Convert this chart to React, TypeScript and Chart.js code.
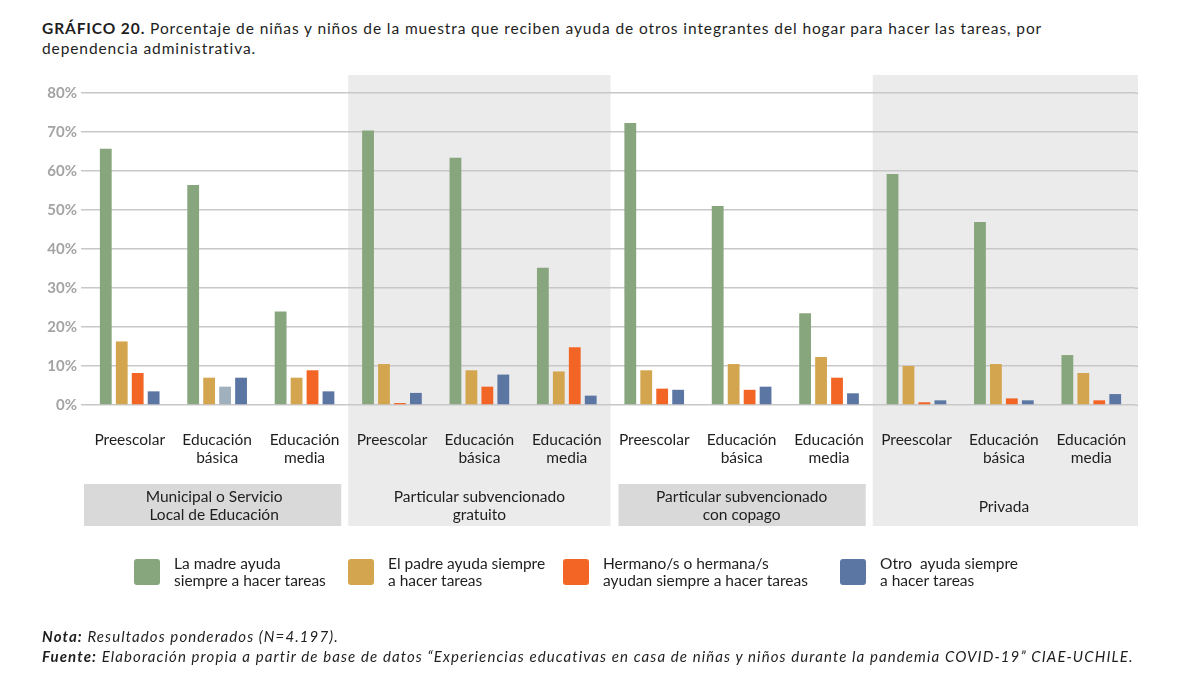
import React, { useEffect, useRef } from "react";
import { Chart, registerables } from "chart.js";

Chart.register(...registerables);

const categories: string[][] = [
  ["Preescolar"], ["Educación", "básica"], ["Educación", "media"],
  ["Preescolar"], ["Educación", "básica"], ["Educación", "media"],
  ["Preescolar"], ["Educación", "básica"], ["Educación", "media"],
  ["Preescolar"], ["Educación", "básica"], ["Educación", "media"],
];

const groupLabels: string[][] = [
  ["Municipal o Servicio", "Local de Educación"],
  ["Particular subvencionado", "gratuito"],
  ["Particular subvencionado", "con copago"],
  ["Privada"],
];

const seriesNames: string[][] = [
  ["La madre ayuda", "siempre a hacer tareas"],
  ["El padre ayuda siempre", "a hacer tareas"],
  ["Hermano/s o hermana/s", "ayudan siempre a hacer tareas"],
  ["Otro  ayuda siempre", "a hacer tareas"],
];

const madre = [65.7, 56.4, 24.0, 70.4, 63.4, 35.2, 72.3, 51.0, 23.5, 59.2, 46.9, 12.8];
const padre = [16.3, 7.0, 7.0, 10.5, 8.9, 8.6, 8.9, 10.5, 12.3, 10.0, 10.5, 8.2];
const hermanos = [8.2, 4.7, 8.9, 0.5, 4.7, 14.8, 4.2, 3.9, 7.0, 0.7, 1.7, 1.2];
const otro = [3.5, 7.0, 3.5, 3.1, 7.8, 2.4, 3.9, 4.7, 3.0, 1.2, 1.2, 2.8];

const yTicks = [0, 10, 20, 30, 40, 50, 60, 70, 80];

const COLORS = ["#88a67d", "#d3a54f", "#f26524", "#5b76a3"];
const ODD_COLOR = "#a1b0bd";
const FONT = "Lato, 'Open Sans', sans-serif";
const TXT = "#1e1e1e";
const CANVAS_FONT_SIZE = 15.5;

export default function App() {
  const canvasRef = useRef<HTMLCanvasElement | null>(null);

  useEffect(() => {
    const canvas = canvasRef.current;
    if (!canvas) return;

    const hermanosColors = hermanos.map((_, i) => (i === 1 ? ODD_COLOR : COLORS[2]));

    const decor = {
      id: "decor",
      beforeDraw(chart: any) {
        const { ctx } = chart;
        const x = chart.scales.x;
        const cw = x.getPixelForValue(1) - x.getPixelForValue(0);
        ctx.save();
        for (let g = 0; g < 4; g++) {
          const left = x.getPixelForValue(g * 3) - cw / 2;
          const right = x.getPixelForValue(g * 3 + 2) + cw / 2;
          if (g % 2 === 1) {
            ctx.fillStyle = "#ebebeb";
            ctx.fillRect(left, 75, right - left + (g === 3 ? 3 : 0), 451);
          }
        }
        ctx.restore();
      },
      beforeDatasetsDraw(chart: any) {
        // extend gridlines slightly past the right edge of the plot area
        const { ctx, chartArea } = chart;
        const y = chart.scales.y;
        ctx.save();
        ctx.strokeStyle = "#c8c8c8";
        ctx.lineWidth = 1.5;
        for (const v of yTicks) {
          const py = Math.round(y.getPixelForValue(v)) + 0.25;
          ctx.beginPath();
          ctx.moveTo(chartArea.right, py);
          ctx.lineTo(chartArea.right + 3, py);
          ctx.stroke();
        }
        ctx.restore();
      },
      afterDraw(chart: any) {
        const { ctx } = chart;
        const x = chart.scales.x;
        const cw = x.getPixelForValue(1) - x.getPixelForValue(0);
        ctx.save();
        // group boxes and labels
        for (let g = 0; g < 4; g++) {
          const left = x.getPixelForValue(g * 3) - cw / 2;
          const right = x.getPixelForValue(g * 3 + 2) + cw / 2;
          if (g % 2 === 0) {
            const l = g === 0 ? left - 2 : left + 8;
            const r = right - 7;
            ctx.fillStyle = "#d9d9d9";
            ctx.fillRect(l, 484, r - l, 42);
          }
          const cx = (left + right) / 2 + (g === 0 ? -3 : 0);
          ctx.fillStyle = TXT;
          ctx.font = `${CANVAS_FONT_SIZE}px ${FONT}`;
          ctx.textAlign = "center";
          ctx.textBaseline = "middle";
          const lines = groupLabels[g];
          if (lines.length === 1) {
            ctx.fillText(lines[0], cx, 507);
          } else {
            ctx.fillText(lines[0], cx, 497);
            ctx.fillText(lines[1], cx, 515);
          }
        }
        // legend
        const legendX = [134, 348, 563, 840];
        for (let i = 0; i < 4; i++) {
          const lx = legendX[i];
          ctx.fillStyle = COLORS[i];
          const r = 3;
          const w = 26, h = 26, y0 = 559;
          ctx.beginPath();
          ctx.moveTo(lx + r, y0);
          ctx.lineTo(lx + w - r, y0);
          ctx.quadraticCurveTo(lx + w, y0, lx + w, y0 + r);
          ctx.lineTo(lx + w, y0 + h - r);
          ctx.quadraticCurveTo(lx + w, y0 + h, lx + w - r, y0 + h);
          ctx.lineTo(lx + r, y0 + h);
          ctx.quadraticCurveTo(lx, y0 + h, lx, y0 + h - r);
          ctx.lineTo(lx, y0 + r);
          ctx.quadraticCurveTo(lx, y0, lx + r, y0);
          ctx.fill();
          ctx.fillStyle = TXT;
          ctx.font = `${CANVAS_FONT_SIZE}px ${FONT}`;
          ctx.textAlign = "left";
          ctx.textBaseline = "middle";
          ctx.fillText(seriesNames[i][0], lx + 40, 564);
          ctx.fillText(seriesNames[i][1], lx + 40, 581);
        }
        ctx.restore();
      },
    };

    const chart = new Chart(canvas, {
      type: "bar",
      data: {
        labels: categories,
        datasets: [
          { label: seriesNames[0].join(" "), data: madre, backgroundColor: COLORS[0] },
          { label: seriesNames[1].join(" "), data: padre, backgroundColor: COLORS[1] },
          { label: seriesNames[2].join(" "), data: hermanos, backgroundColor: hermanosColors },
          { label: seriesNames[3].join(" "), data: otro, backgroundColor: COLORS[3] },
        ],
      },
      options: {
        animation: false,
        responsive: false,
        devicePixelRatio: 1,
        datasets: { bar: { categoryPercentage: 0.73, barPercentage: 0.74 } },
        layout: { padding: { top: 93, right: 65, bottom: 0, left: 0 } },
        plugins: {
          legend: { display: false },
          tooltip: { enabled: false },
          title: { display: false },
        },
        scales: {
          x: {
            grid: { display: false, drawTicks: false },
            border: { display: false },
            ticks: {
              padding: 26,
              color: TXT,
              font: { family: FONT, size: CANVAS_FONT_SIZE, lineHeight: 1.15 },
              maxRotation: 0,
              autoSkip: false,
            },
            afterFit: (s: any) => {
              s.height = 278;
            },
          },
          y: {
            min: 0,
            max: 80,
            afterBuildTicks: (s: any) => {
              s.ticks = yTicks.map((v) => ({ value: v }));
            },
            grid: { color: "#c8c8c8", lineWidth: 1.5, drawTicks: true, tickLength: 5 },
            border: { display: false },
            ticks: {
              padding: 4,
              color: "#a3a3a3",
              font: { family: FONT, size: 15, weight: "bold" },
              callback: (v: any) => `${v}%`,
            },
            afterFit: (s: any) => {
              s.width = 86;
            },
          },
        },
      },
      plugins: [decor],
    } as any);

    return () => chart.destroy();
  }, []);

  return (
    <div
      style={{
        position: "absolute",
        left: 0,
        top: 0,
        width: 1200,
        height: 683,
        background: "#ffffff",
        overflow: "hidden",
        fontFamily: FONT,
        color: TXT,
      }}
    >
      <div
        style={{
          position: "absolute",
          left: 42,
          top: 18,
          fontSize: 15.5,
          lineHeight: "20px",
          letterSpacing: "0.9px",
          whiteSpace: "nowrap",
        }}
      >
        <b>GRÁFICO 20.</b> Porcentaje de niñas y niños de la muestra que reciben ayuda de otros integrantes del hogar para hacer las tareas, por
        <br />
        dependencia administrativa.
      </div>
      <canvas
        ref={canvasRef}
        width={1200}
        height={683}
        style={{ position: "absolute", left: 0, top: 0, width: 1200, height: 683 }}
      />
      <div
        style={{
          position: "absolute",
          left: 42,
          top: 626,
          fontSize: 15,
          lineHeight: "20px",
          letterSpacing: "1.1px",
          fontStyle: "italic",
          whiteSpace: "nowrap",
        }}
      >
        <b>Nota:</b> Resultados ponderados (N=4.197).
        <br />
        <b>Fuente:</b> Elaboración propia a partir de base de datos “Experiencias educativas en casa de niñas y niños durante la pandemia COVID-19” CIAE-UCHILE.
      </div>
    </div>
  );
}
